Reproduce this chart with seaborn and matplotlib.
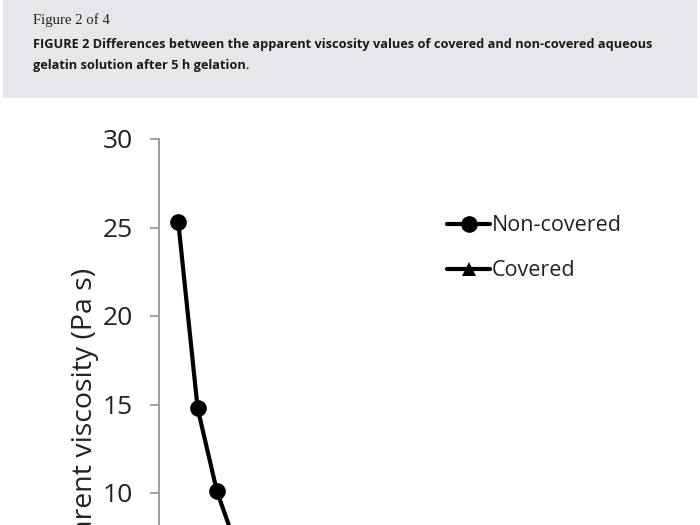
import matplotlib
matplotlib.use("Agg")
import matplotlib.pyplot as plt
import seaborn as sns
import pandas as pd
from matplotlib.patches import Rectangle
from matplotlib.lines import Line2D

x_values = [1, 2, 3, 4]
non_covered = [25.3, 14.8, 10.1, 7.0]
covered = [6.0, 4.5, 3.6, 3.0]
y_ticks = [0, 5, 10, 15, 20, 25, 30]
series_names = ["Non-covered", "Covered"]

header_title = "Figure 2 of 4"
caption_1 = "FIGURE 2 Differences between the apparent viscosity values of covered and non-covered aqueous"
caption_2 = "gelatin solution after 5 h gelation."
y_label = "Apparent viscosity (Pa s)"

df = pd.DataFrame({
    "x": x_values * 2,
    "y": non_covered + covered,
    "series": [series_names[0]] * len(x_values) + [series_names[1]] * len(x_values),
})

sns.set_theme(style="white")
plt.rcParams["font.family"] = ["Open Sans", "DejaVu Sans"]

W, H = 700, 525
fig = plt.figure(figsize=(7, 5.25), dpi=100)
fig.patch.set_facecolor("white")

# header band
fig.patches.append(Rectangle((3 / W, 1 - 98 / H), 694 / W, 98 / H,
                             transform=fig.transFigure, facecolor="#e8e6ea",
                             edgecolor="none", zorder=0))
fig.text(33 / W, 1 - 20 / H, header_title, family=["Liberation Serif"],
         fontsize=10.6, color="#222222", va="center", ha="left")
fig.text(33 / W, 1 - 44.5 / H, caption_1, family=["Open Sans", "DejaVu Sans"],
         fontweight="bold", fontsize=9.15, color="#1a1a1a", va="center", ha="left")
fig.text(33 / W, 1 - 65 / H, caption_2, family=["Open Sans", "DejaVu Sans"],
         fontweight="bold", fontsize=9.15, color="#1a1a1a", va="center", ha="left")

# axes: y=30 at pixel 139, y=10 at 493
ppu = (493 - 139) / 20.0
top_px = 139
bottom_px = top_px + 30 * ppu
left_px = 159
xppu = 19.3
xmax = 14
ax = fig.add_axes([left_px / W, 1 - bottom_px / H, xmax * xppu / W, (bottom_px - top_px) / H])
ax.set_facecolor("none")

sns.lineplot(data=df, x="x", y="y", hue="series", style="series",
             palette=["black", "black"], markers=["o", "^"], dashes=False,
             linewidth=3.0, markersize=12, markeredgewidth=0, ax=ax, legend=False,
             clip_on=False)

ax.set_xlim(0, xmax)
ax.set_ylim(0, 30)
ax.set_yticks(y_ticks)
ax.set_yticklabels([str(t) for t in y_ticks])
ax.set_xticks([])
ax.set_xlabel("")
ax.set_ylabel(y_label, fontsize=20.5, color="#222222")
ax.yaxis.set_label_coords(85 / W, 1 - 268 / H, transform=fig.transFigure)
ax.yaxis.label.set_rotation_mode("default")
ax.yaxis.label.set_va("top")
ax.yaxis.label.set_ha("center")
for s in ["top", "right", "bottom"]:
    ax.spines[s].set_visible(False)
ax.spines["left"].set_color("#8c8c8c")
ax.spines["left"].set_linewidth(1.2)
ax.tick_params(axis="y", which="major", left=True, length=6.5, width=1.1,
               color="#8c8c8c", labelsize=19, labelcolor="#222222", pad=12)

handles = [
    Line2D([], [], color="black", marker="o", linewidth=3.0, markersize=12, markeredgewidth=0),
    Line2D([], [], color="black", marker="^", linewidth=3.0, markersize=10, markeredgewidth=0),
]
leg = fig.legend(handles, series_names, loc="upper left",
                 bbox_to_anchor=(428 / W, 1 - 196 / H), frameon=False,
                 fontsize=15.5, handlelength=2.0, handletextpad=0.08,
                 labelspacing=1.1, labelcolor="#222222")

fig.savefig("out.png", dpi=100)
